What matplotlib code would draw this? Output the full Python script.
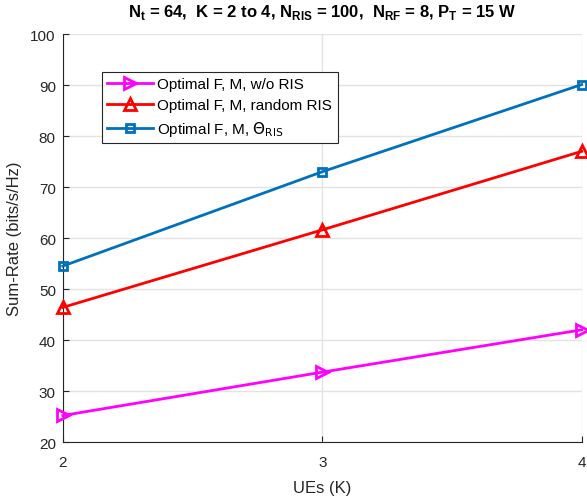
import matplotlib.pyplot as plt

plt.rcParams['font.family'] = ['Liberation Sans', 'DejaVu Sans']

# data
ues = [2, 3, 4]
rate_no_ris = [25.2, 33.7, 42.0]
rate_random_ris = [46.4, 61.6, 77.0]
rate_opt_ris = [54.5, 73.0, 90.1]

labels = ['Optimal F, M, w/o RIS',
          'Optimal F, M, random RIS',
          r'Optimal F, M, $\Theta_{\mathrm{RIS}}$']
x_ticks = [2, 3, 4]
y_ticks = [20, 30, 40, 50, 60, 70, 80, 90, 100]

fig = plt.figure(figsize=(5.87, 5.02), dpi=100)
ax = fig.add_axes([0.107, 0.1175, 0.884, 0.8127])

ax.plot(ues, rate_no_ris, color='#ff00ff', lw=2, marker='>', ms=9,
        mfc='none', mew=2, label=labels[0], clip_on=False, zorder=3)
ax.plot(ues, rate_random_ris, color='#ff0000', lw=2, marker='^', ms=9,
        mfc='none', mew=2, label=labels[1], clip_on=False, zorder=3)
ax.plot(ues, rate_opt_ris, color='#0072bd', lw=2, marker='s', ms=6,
        mfc='none', mew=2, label=labels[2], clip_on=False, zorder=3)

ax.set_xlim(2, 4)
ax.set_ylim(20, 100)
ax.set_xticks(x_ticks)
ax.set_yticks(y_ticks)
ax.grid(True, color='#e3e3e3', lw=1)
ax.set_axisbelow(True)
for side in ['top', 'right']:
    ax.spines[side].set_visible(False)
for side in ['left', 'bottom']:
    ax.spines[side].set_color('#262626')
ax.tick_params(direction='in', length=4, labelsize=11, colors='#262626')
ax.tick_params(axis='x', pad=9)
ax.tick_params(axis='y', pad=5)

ax.set_xlabel('UEs (K)', fontsize=12, color='#262626', labelpad=8)
ax.set_ylabel('Sum-Rate (bits/s/Hz)', fontsize=12, color='#262626', labelpad=6)
ax.set_title(r'N$_\mathregular{t}$ = 64,  K = 2 to 4, N$_\mathregular{RIS}$ = 100,  '
             r'N$_\mathregular{RF}$ = 8, P$_\mathregular{T}$ = 15 W',
             fontsize=12, fontweight='bold', pad=13)

leg = ax.legend(loc='upper left', bbox_to_anchor=(0.075, 0.907), fontsize=11,
                fancybox=False, framealpha=1, edgecolor='#262626',
                handlelength=3, borderpad=0.35, labelspacing=0.45,
                handletextpad=0.3, borderaxespad=0)
leg.get_frame().set_linewidth(0.8)

fig.savefig('out.png', dpi=100)
